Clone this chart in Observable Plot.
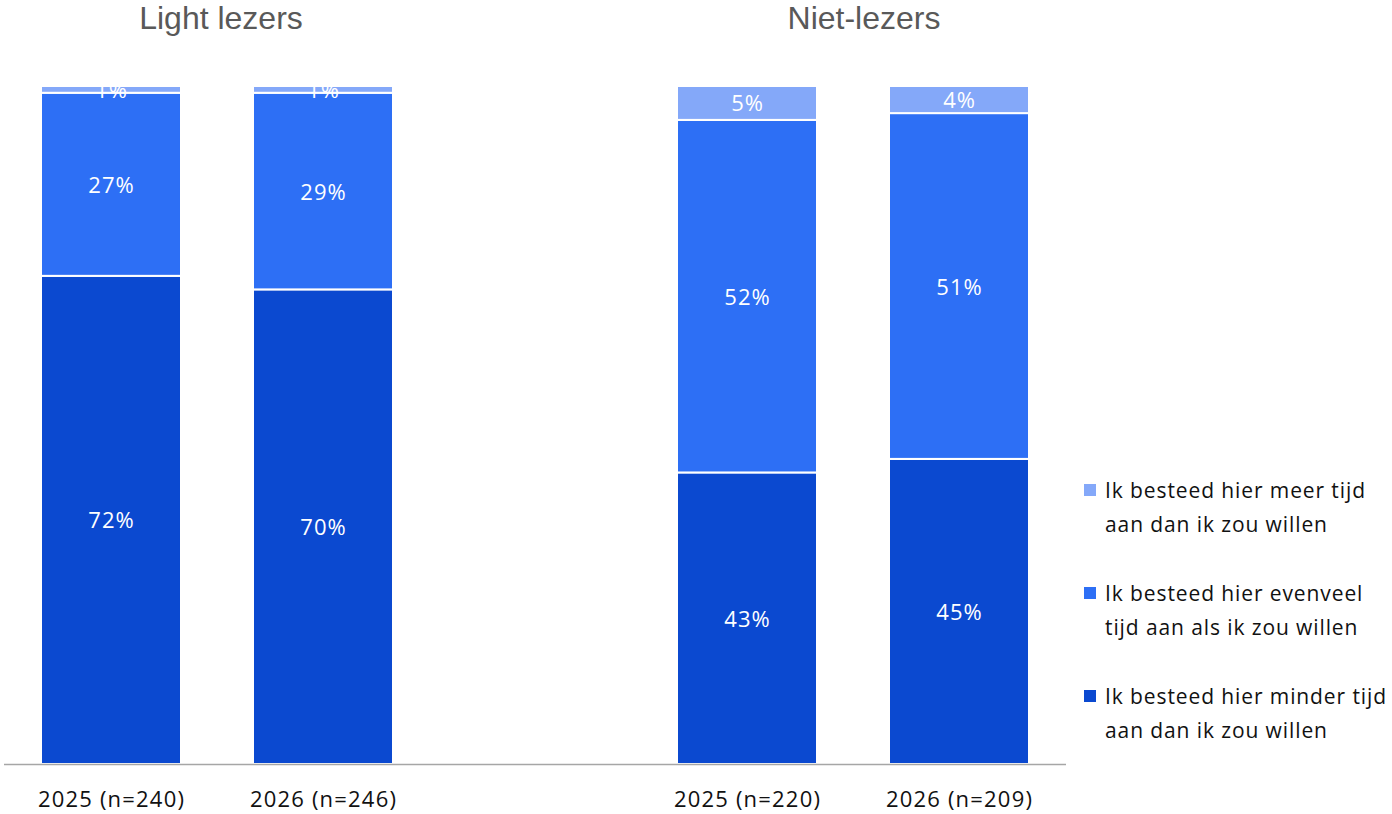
<!DOCTYPE html>
<html>
<head>
<meta charset="utf-8">
<script src="https://cdn.jsdelivr.net/npm/d3@7"></script>
<script src="https://cdn.jsdelivr.net/npm/@observablehq/plot@0.6"></script>
<style>
  html, body { margin: 0; padding: 0; background: #fff; }
  #wrap { position: relative; width: 1392px; height: 814px; overflow: hidden; }
  .title { position: absolute; top: 0px; font-family: "Liberation Sans", Arial, sans-serif; font-size: 32px; color: #595959; transform: translateX(-50%); white-space: nowrap; line-height: 36px; }
  #legend { position: absolute; left: 1084px; top: 473px; font-family: "Open Sans", sans-serif; font-size: 21px; color: #111; }
  .item { position: relative; padding-left: 21px; line-height: 34px; margin-bottom: 35px; letter-spacing: 0.9px; white-space: nowrap; }
  .sw { position: absolute; left: 0; top: 11px; width: 12px; height: 12px; }
  svg text { font-family: "Open Sans", sans-serif; }
  svg g[aria-label="x-axis tick label"] text { letter-spacing: 1.2px; }
  svg g[aria-label="text"] text { letter-spacing: 1px; }
</style>
</head>
<body>
<div id="wrap">
  <div id="chart"></div>
</div>
<script>
// ---- data ----
const groups = ["Light lezers", "Niet-lezers"];
const categories = ["2025 (n=240)", "2026 (n=246)", "2025 (n=220)", "2026 (n=209)"];
const seriesNames = [
  "Ik besteed hier minder tijd aan dan ik zou willen",
  "Ik besteed hier evenveel tijd aan als ik zou willen",
  "Ik besteed hier meer tijd aan dan ik zou willen"
];
const legendLines = [
  ["Ik besteed hier minder tijd", "aan dan ik zou willen"],
  ["Ik besteed hier evenveel", "tijd aan als ik zou willen"],
  ["Ik besteed hier meer tijd", "aan dan ik zou willen"]
];
const minder = [72, 70, 43, 45];
const evenveel = [27, 29, 52, 51];
const meer = [1, 1, 5, 4];
const colors = ["#0B49D0", "#2D6FF5", "#84A8F9"];

// ---- table ----
const seriesValues = [minder, evenveel, meer];
const rows = [];
seriesNames.forEach((s, si) => {
  categories.forEach((c, ci) => {
    rows.push({category: c, series: s, value: seriesValues[si][ci]});
  });
});
const xDomain = [categories[0], categories[1], "", categories[2], categories[3]];

const plot = Plot.plot({
  width: 1392,
  height: 814,
  marginTop: 86,
  marginBottom: 50,
  marginLeft: 4,
  marginRight: 326,
  x: {domain: xDomain, paddingInner: 0.3404, paddingOuter: 0.1743, label: null},
  y: {domain: [0, 100], axis: null},
  color: {domain: seriesNames, range: colors},
  marks: [
    Plot.barY(rows, Plot.stackY({x: "category", y: "value", fill: "series", z: "series", stroke: "white", strokeWidth: 2})),
    Plot.text(rows, Plot.stackY({x: "category", y: "value", z: "series", text: d => d.value + "%", fill: "white", fontSize: 22, dy: 1})),
    Plot.ruleY([0], {stroke: "#a6a6a6", strokeWidth: 1.5}),
    Plot.axisX({ticks: categories, tickSize: 0, tickPadding: 27, fontSize: 22, fill: "#111", label: null})
  ]
});
document.getElementById("chart").appendChild(plot);

// titles
const xs = plot.scale("x");
const wrap = document.getElementById("wrap");
const titleShift = [4, 11];
groups.forEach((g, gi) => {
  const a = xs.apply(categories[gi * 2]);
  const b = xs.apply(categories[gi * 2 + 1]) + xs.bandwidth;
  const div = document.createElement("div");
  div.className = "title";
  div.textContent = g;
  div.style.left = ((a + b) / 2 + titleShift[gi]) + "px";
  wrap.appendChild(div);
});

// legend (top item = meer)
const legend = document.createElement("div");
legend.id = "legend";
[2, 1, 0].forEach(i => {
  const item = document.createElement("div");
  item.className = "item";
  const sw = document.createElement("span");
  sw.className = "sw";
  sw.style.background = colors[i];
  item.appendChild(sw);
  item.appendChild(document.createTextNode(legendLines[i][0]));
  item.appendChild(document.createElement("br"));
  item.appendChild(document.createTextNode(legendLines[i][1]));
  legend.appendChild(item);
});
wrap.appendChild(legend);
</script>
</body>
</html>
